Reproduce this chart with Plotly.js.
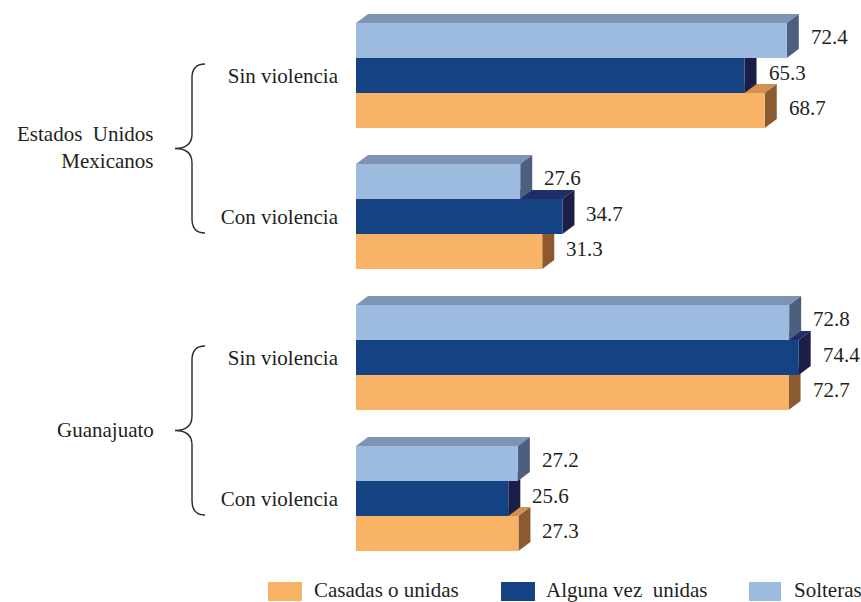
<!DOCTYPE html>
<html>
<head>
<meta charset="utf-8">
<script src="https://cdn.plot.ly/plotly-3.0.1.min.js"></script>
<style>html,body{margin:0;padding:0;background:#fff;overflow:hidden;}#chart{width:861px;height:602px;}</style>
</head>
<body>
<div id="chart"></div>
<script>
// ---- data ----
const categories = ['Sin violencia', 'Con violencia', 'Sin violencia', 'Con violencia'];
const groupLabels = ['Estados\u00a0\u00a0Unidos<br>Mexicanos', 'Guanajuato'];
const seriesNames = ['Solteras', 'Alguna vez\u00a0\u00a0unidas', 'Casadas o unidas'];
const solteras = [72.4, 27.6, 72.8, 27.2];
const alguna = [65.3, 34.7, 74.4, 25.6];
const casadas = [68.7, 31.3, 72.7, 27.3];

// ---- styles ----
const W = 861, H = 602;
const M = {l: 356, r: 29, t: 5, b: 33};
const XR = [0, 80];
const YR = [3.5, -0.5];
const plotW = W - M.l - M.r, plotH = H - M.t - M.b;
const pxPerX = plotW / (XR[1] - XR[0]);
const pxPerY = plotH / (YR[0] - YR[1]);
const DEPTH_X = 12, DEPTH_Y = 9;
const ddx = DEPTH_X / pxPerX, ddy = DEPTH_Y / pxPerY;
const BARGAP = 0.255;
const barW = (1 - BARGAP) / 3;
const FONT = 'Liberation Serif';
const TXT = '#231f20';
const colors = [
  {front: '#9CBBDE', top: '#7D94B5', side: '#4E5E7E'},
  {front: '#144283', top: '#1D2E68', side: '#1B1F48'},
  {front: '#F9B366', top: '#D4904E', side: '#8B5A31'}
];
const series = [solteras, alguna, casadas];
const ypos = categories.map((c, i) => i);

const traces = series.map((vals, k) => ({
  type: 'bar', orientation: 'h', name: seriesNames[k],
  x: vals, y: ypos,
  marker: {color: colors[k].front, line: {width: 0}},
  hoverinfo: 'x', showlegend: false
}));

const shapes = [];
const annotations = [];
// 3D faces (draw bottom bar first so upper bars overlap)
ypos.forEach((g, gi) => {
  for (let k = 2; k >= 0; k--) {
    const v = series[k][gi];
    const yc = g - (1 - BARGAP) / 2 + barW * (k + 0.5);
    const yt = yc - barW / 2, yb = yc + barW / 2;
    shapes.push({type: 'path', layer: 'below', xref: 'x', yref: 'y',
      path: `M 0,${yt} L ${v},${yt} L ${v + ddx},${yt - ddy} L ${ddx},${yt - ddy} Z`,
      fillcolor: colors[k].top, line: {width: 0}});
    shapes.push({type: 'path', layer: 'below', xref: 'x', yref: 'y',
      path: `M ${v},${yb} L ${v},${yt} L ${v + ddx},${yt - ddy} L ${v + ddx},${yb - ddy} Z`,
      fillcolor: colors[k].side, line: {width: 0}});
    annotations.push({x: v, y: yc, xref: 'x', yref: 'y', text: v.toFixed(1),
      xanchor: 'left', yanchor: 'middle', xshift: DEPTH_X + 10, yshift: 3, showarrow: false,
      font: {family: FONT, size: 21, color: TXT}});
  }
});

// braces and group labels
const bracePath = 'M -151,82 Q -164,82 -164,68 L -164,12 Q -164,-2.5 -181,-2.5 Q -164,-2.5 -164,-17 L -164,-73 Q -164,-87 -151,-87';
[0.5, 2.5].forEach((yc, i) => {
  shapes.push({type: 'path', xref: 'paper', yref: 'y', xsizemode: 'pixel', ysizemode: 'pixel',
    xanchor: 0, yanchor: yc, path: bracePath, line: {color: '#2a2a2a', width: 1.4}});
  annotations.push({xref: 'paper', yref: 'y', x: (156 - M.l) / plotW, y: yc, xanchor: 'right', yanchor: 'middle',
    align: 'right', text: groupLabels[i], showarrow: false, yshift: i === 0 ? -1 : -2,
    font: {family: FONT, size: 21, color: TXT}});
});

// custom legend
const px2x = p => (p - M.l) / plotW;
const px2y = p => (H - M.b - p) / plotH;
const legendItems = [
  {k: 2, sx0: 268, sx1: 302, tx: 312},
  {k: 1, sx0: 501, sx1: 535, tx: 544},
  {k: 0, sx0: 749, sx1: 781, tx: 792}
];
legendItems.forEach(it => {
  shapes.push({type: 'rect', xref: 'paper', yref: 'paper', x0: px2x(it.sx0), x1: px2x(it.sx1),
    y0: px2y(582), y1: px2y(601), fillcolor: colors[it.k].front, line: {width: 0}});
  annotations.push({xref: 'paper', yref: 'paper', x: px2x(it.tx), y: px2y(590), xanchor: 'left', yanchor: 'middle',
    text: seriesNames[it.k], showarrow: false, font: {family: FONT, size: 21, color: TXT}});
});

const layout = {
  width: W, height: H, margin: M,
  paper_bgcolor: '#fff', plot_bgcolor: '#fff',
  barmode: 'group', bargap: BARGAP, bargroupgap: 0,
  showlegend: false,
  xaxis: {range: XR, visible: false, fixedrange: true},
  yaxis: {range: YR, tickmode: 'array', tickvals: ypos, ticktext: categories,
    showgrid: false, zeroline: false, showline: false, ticks: '', ticklabelstandoff: 17,
    tickfont: {family: FONT, size: 21, color: TXT}, fixedrange: true},
  shapes: shapes, annotations: annotations
};
Plotly.newPlot('chart', traces, layout, {displayModeBar: false, staticPlot: true});
</script>
</body>
</html>
